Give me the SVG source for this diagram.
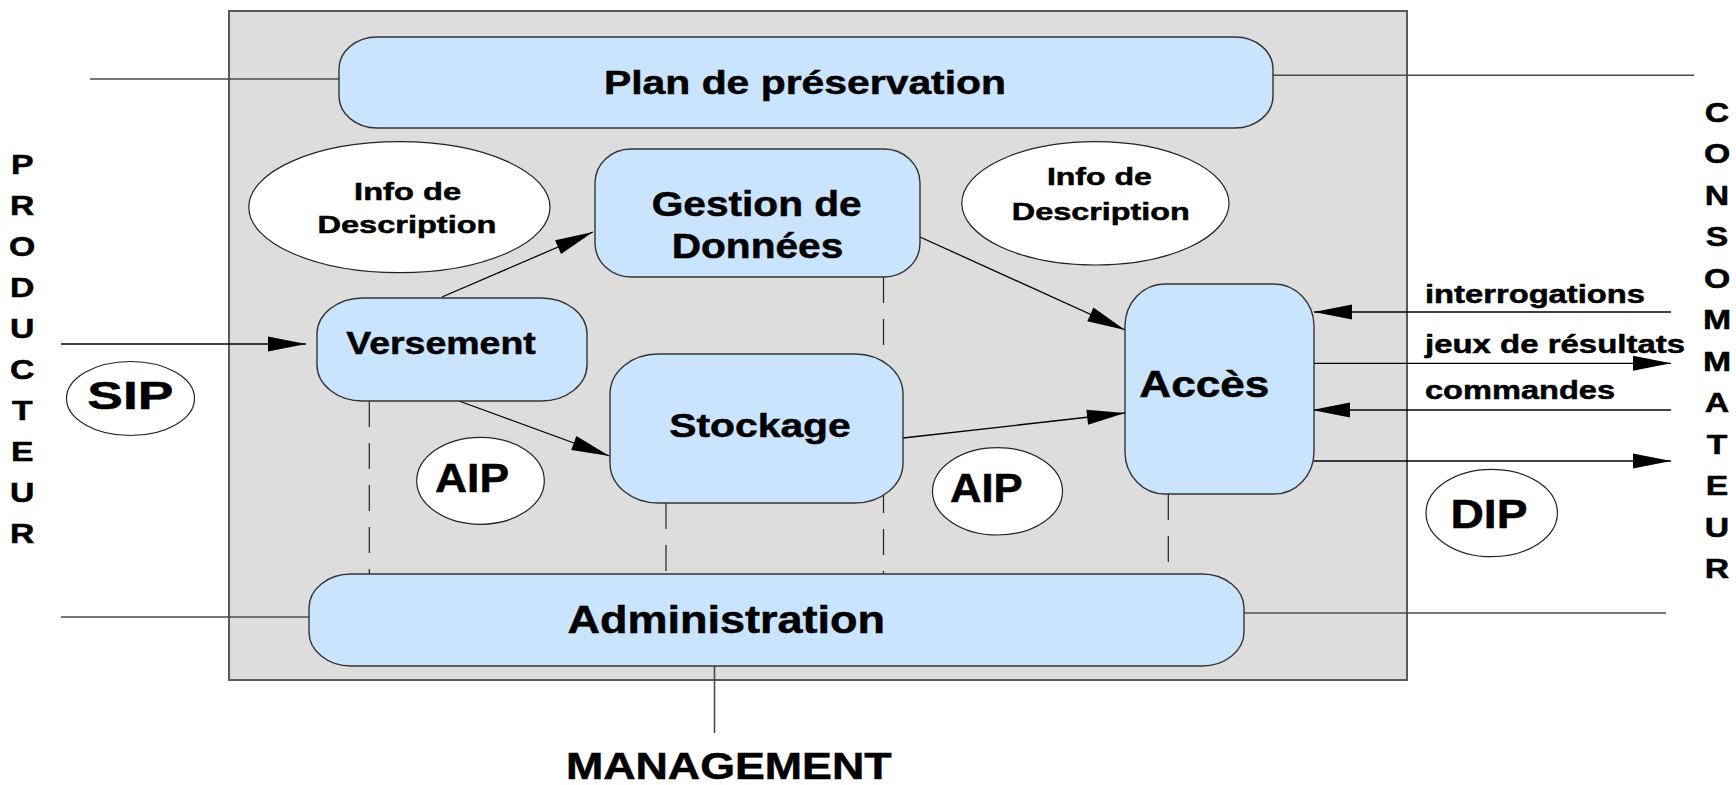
<svg xmlns="http://www.w3.org/2000/svg" width="1736" height="785" viewBox="0 0 1736 785">
<style>
text{font-family:"Liberation Sans",Arial,sans-serif;font-weight:bold;fill:#000;stroke:#000;stroke-width:0.5}
.box{fill:#cbe4fd;stroke:#333;stroke-width:1.4}
.ell{fill:#fff;stroke:#222;stroke-width:1.2}
.ln{fill:none;stroke:#000;stroke-width:1.3}
.ext{fill:none;stroke:#4a4a4a;stroke-width:1.6}
.dash{fill:none;stroke:#222;stroke-width:1.2;stroke-dasharray:26 16}
.arr{marker-end:url(#ah)}
.mid{text-anchor:middle}
</style>
<defs>
<marker id="ah" markerUnits="userSpaceOnUse" markerWidth="40" markerHeight="16" refX="38" refY="7.5" orient="auto" overflow="visible">
<path d="M0,0 L38,7.5 L0,15 z" fill="#000"/>
</marker>
</defs>
<rect id="system" x="229" y="11" width="1178" height="669" fill="#dddddd" stroke="#5a5a5a" stroke-width="2"/>
<g id="connectors">
<path class="ext" d="M90,79 L339,79"/>
<path class="ext" d="M1273,75.3 L1694,75.3"/>
<path class="ext" d="M61,617 L309,617"/>
<path class="ext" d="M1244,613 L1666,613"/>
<path class="ext" d="M714.5,666 L714.5,733"/>
<path class="dash" d="M369.3,401 V574"/>
<path class="dash" d="M666,503 V574"/>
<path class="dash" d="M883.5,277 V574"/>
<path class="dash" d="M1168.3,494 V574"/>
<path class="ln arr" d="M61,344 L306,344"/>
<path class="ln arr" d="M442,297 L593,232"/>
<path class="ln arr" d="M920,237 L1125,330"/>
<path class="ln arr" d="M459,401 L609.5,456"/>
<path class="ln arr" d="M903,438 L1125,413"/>
<path class="ln arr" d="M1671,312 L1314,312"/>
<path class="ln arr" d="M1314,363.3 L1671,363.3"/>
<path class="ln arr" d="M1671,410 L1312,410"/>
<path class="ln arr" d="M1314,461 L1671,461"/>
</g>
<g id="plan">
<rect class="box" x="339" y="37" width="934" height="91" rx="38" ry="32"/>
<text class="mid" x="805" y="94" font-size="33" textLength="402" lengthAdjust="spacingAndGlyphs">Plan de préservation</text>
</g>
<g id="info1">
<ellipse class="ell" cx="399.4" cy="207.2" rx="150.6" ry="65.5"/>
<text class="mid" x="407.6" y="200" font-size="24" textLength="107" lengthAdjust="spacingAndGlyphs">Info de</text>
<text class="mid" x="407" y="233" font-size="24" textLength="179" lengthAdjust="spacingAndGlyphs">Description</text>
</g>
<g id="info2">
<ellipse class="ell" cx="1095.4" cy="203.3" rx="133.6" ry="61.7"/>
<text class="mid" x="1099.4" y="185" font-size="24" textLength="105" lengthAdjust="spacingAndGlyphs">Info de</text>
<text class="mid" x="1100.8" y="220" font-size="24" textLength="178" lengthAdjust="spacingAndGlyphs">Description</text>
</g>
<g id="gestion">
<rect class="box" x="595" y="149" width="325" height="128" rx="36" ry="34"/>
<text class="mid" x="756.7" y="215.7" font-size="35" textLength="210" lengthAdjust="spacingAndGlyphs">Gestion de</text>
<text class="mid" x="757.5" y="258.3" font-size="35" textLength="171.7" lengthAdjust="spacingAndGlyphs">Données</text>
</g>
<g id="versement">
<rect class="box" x="317" y="298" width="270" height="103" rx="46" ry="36"/>
<text class="mid" x="441" y="354" font-size="32" textLength="189.5" lengthAdjust="spacingAndGlyphs">Versement</text>
</g>
<g id="stockage">
<rect class="box" x="610" y="354" width="293" height="149" rx="48" ry="40"/>
<text class="mid" x="760" y="436.5" font-size="34" textLength="181.6" lengthAdjust="spacingAndGlyphs">Stockage</text>
</g>
<g id="acces">
<rect class="box" x="1125" y="284" width="189" height="210" rx="40" ry="42"/>
<text class="mid" x="1204.3" y="396.7" font-size="37" textLength="130" lengthAdjust="spacingAndGlyphs">Accès</text>
</g>
<g id="administration">
<rect class="box" x="309" y="574" width="935" height="92" rx="42" ry="34"/>
<text class="mid" x="726.3" y="633" font-size="38" textLength="317.7" lengthAdjust="spacingAndGlyphs">Administration</text>
</g>
<g id="sip">
<ellipse class="ell" cx="130.5" cy="398.5" rx="64" ry="37"/>
<text class="mid" x="130.3" y="409.3" font-size="38" textLength="86" lengthAdjust="spacingAndGlyphs">SIP</text>
</g>
<g id="aip1">
<ellipse class="ell" cx="480.5" cy="480.8" rx="63.8" ry="43.5"/>
<text class="mid" x="472" y="491.7" font-size="40" textLength="74" lengthAdjust="spacingAndGlyphs">AIP</text>
</g>
<g id="aip2">
<ellipse class="ell" cx="997.5" cy="491.3" rx="65" ry="43.7"/>
<text class="mid" x="986.3" y="501.7" font-size="40" textLength="72.7" lengthAdjust="spacingAndGlyphs">AIP</text>
</g>
<g id="dip">
<ellipse class="ell" cx="1491.7" cy="513" rx="65.7" ry="43.7"/>
<text class="mid" x="1489" y="528.3" font-size="41" textLength="77" lengthAdjust="spacingAndGlyphs">DIP</text>
</g>
<g id="labels">
<text x="1425" y="302.7" font-size="25" textLength="220" lengthAdjust="spacingAndGlyphs">interrogations</text>
<text x="1425" y="353.3" font-size="26" textLength="260" lengthAdjust="spacingAndGlyphs">jeux de résultats</text>
<text x="1425" y="399.3" font-size="26" textLength="190" lengthAdjust="spacingAndGlyphs">commandes</text>
</g>
<g id="management">
<text class="mid" x="728.8" y="779" font-size="37" textLength="325.7" lengthAdjust="spacingAndGlyphs">MANAGEMENT</text>
</g>
<g id="producteur" transform="translate(22.2,0) scale(1.25,1)" font-size="27">
<text class="mid" x="0" y="174">P</text>
<text class="mid" x="0" y="215">R</text>
<text class="mid" x="0" y="256">O</text>
<text class="mid" x="0" y="297">D</text>
<text class="mid" x="0" y="338">U</text>
<text class="mid" x="0" y="379">C</text>
<text class="mid" x="0" y="420">T</text>
<text class="mid" x="0" y="461">E</text>
<text class="mid" x="0" y="502">U</text>
<text class="mid" x="0" y="543">R</text>
</g>
<g id="consommateur" transform="translate(1717,0) scale(1.25,1)" font-size="27">
<text class="mid" x="0" y="122">C</text>
<text class="mid" x="0" y="163.5">O</text>
<text class="mid" x="0" y="205">N</text>
<text class="mid" x="0" y="246.5">S</text>
<text class="mid" x="0" y="288">O</text>
<text class="mid" x="0" y="329.5">M</text>
<text class="mid" x="0" y="371">M</text>
<text class="mid" x="0" y="412.5">A</text>
<text class="mid" x="0" y="454">T</text>
<text class="mid" x="0" y="495.5">E</text>
<text class="mid" x="0" y="537">U</text>
<text class="mid" x="0" y="578.5">R</text>
</g>
</svg>
